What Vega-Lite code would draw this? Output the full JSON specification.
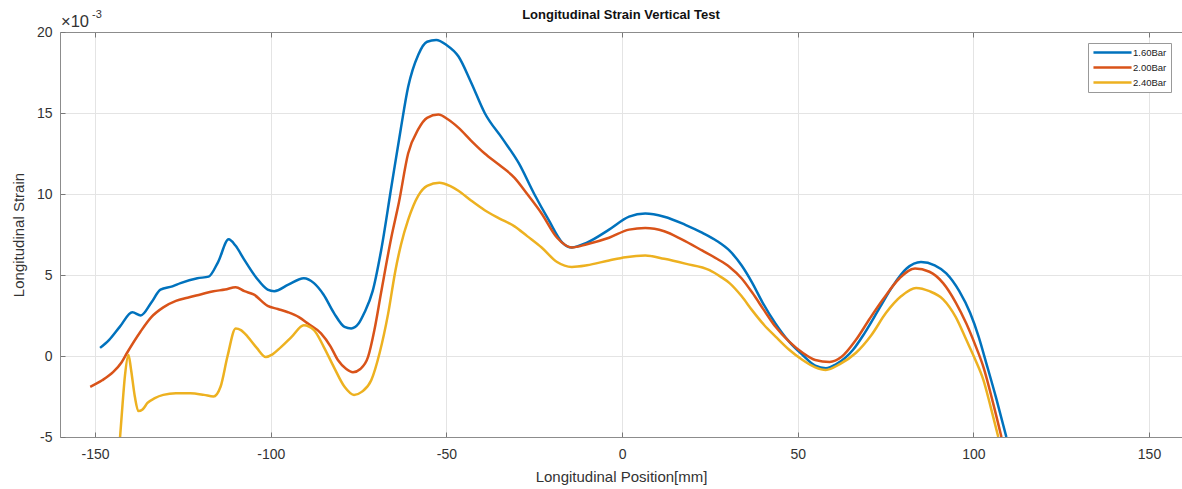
{
  "$schema": "https://vega.github.io/schema/vega-lite/v6.json",
  "width": 1122,
  "height": 405,
  "autosize": {"type": "none"},
  "padding": {"left": 60, "top": 32, "right": 0, "bottom": 52},
  "background": "white",
  "config": {
    "font": "Liberation Sans",
    "view": {"stroke": null},
    "axis": {"labelColor": "#333", "titleColor": "#333", "titleFontWeight": "normal", "domainColor": "#8c8c8c", "tickColor": "#777", "gridColor": "#e4e4e4"}
  },
  "title": {"text": "Longitudinal Strain Vertical Test", "fontSize": 13, "fontWeight": "bold", "color": "#111", "offset": 0, "dy": 13, "anchor": "middle"},
  "datasets": {
    "strain": [
      {"s": "1.60Bar", "x": -148.6, "y": 0.5}, {"s": "1.60Bar", "x": -146, "y": 1.0}, {"s": "1.60Bar", "x": -143, "y": 1.8}, {"s": "1.60Bar", "x": -139.4, "y": 2.7}, {"s": "1.60Bar", "x": -137, "y": 2.5}, {"s": "1.60Bar", "x": -134, "y": 3.3}, {"s": "1.60Bar", "x": -131.4, "y": 4.1}, {"s": "1.60Bar", "x": -128, "y": 4.3}, {"s": "1.60Bar", "x": -125.7, "y": 4.5}, {"s": "1.60Bar", "x": -120.9, "y": 4.8}, {"s": "1.60Bar", "x": -117.7, "y": 4.9}, {"s": "1.60Bar", "x": -115, "y": 5.8}, {"s": "1.60Bar", "x": -112, "y": 7.2}, {"s": "1.60Bar", "x": -110, "y": 6.8}, {"s": "1.60Bar", "x": -107.7, "y": 6.0}, {"s": "1.60Bar", "x": -104, "y": 4.8}, {"s": "1.60Bar", "x": -100.9, "y": 4.1}, {"s": "1.60Bar", "x": -99, "y": 4.0}, {"s": "1.60Bar", "x": -95, "y": 4.4}, {"s": "1.60Bar", "x": -90.6, "y": 4.8}, {"s": "1.60Bar", "x": -87.7, "y": 4.5}, {"s": "1.60Bar", "x": -85, "y": 3.8}, {"s": "1.60Bar", "x": -82, "y": 2.65}, {"s": "1.60Bar", "x": -79, "y": 1.8}, {"s": "1.60Bar", "x": -77.1, "y": 1.7}, {"s": "1.60Bar", "x": -75, "y": 2.0}, {"s": "1.60Bar", "x": -73.4, "y": 2.65}, {"s": "1.60Bar", "x": -71, "y": 4.0}, {"s": "1.60Bar", "x": -68.6, "y": 6.5}, {"s": "1.60Bar", "x": -65.7, "y": 10.4}, {"s": "1.60Bar", "x": -63, "y": 14.0}, {"s": "1.60Bar", "x": -60.9, "y": 16.6}, {"s": "1.60Bar", "x": -58, "y": 18.6}, {"s": "1.60Bar", "x": -55.5, "y": 19.4}, {"s": "1.60Bar", "x": -52.9, "y": 19.5}, {"s": "1.60Bar", "x": -50, "y": 19.2}, {"s": "1.60Bar", "x": -46.6, "y": 18.5}, {"s": "1.60Bar", "x": -43, "y": 16.9}, {"s": "1.60Bar", "x": -39.1, "y": 15.0}, {"s": "1.60Bar", "x": -34, "y": 13.4}, {"s": "1.60Bar", "x": -29.4, "y": 11.9}, {"s": "1.60Bar", "x": -25, "y": 10.0}, {"s": "1.60Bar", "x": -20.9, "y": 8.4}, {"s": "1.60Bar", "x": -17, "y": 7.0}, {"s": "1.60Bar", "x": -14.3, "y": 6.7}, {"s": "1.60Bar", "x": -10, "y": 7.0}, {"s": "1.60Bar", "x": -3.7, "y": 7.8}, {"s": "1.60Bar", "x": 2, "y": 8.6}, {"s": "1.60Bar", "x": 6.6, "y": 8.8}, {"s": "1.60Bar", "x": 12, "y": 8.6}, {"s": "1.60Bar", "x": 18, "y": 8.1}, {"s": "1.60Bar", "x": 22.9, "y": 7.6}, {"s": "1.60Bar", "x": 27, "y": 7.1}, {"s": "1.60Bar", "x": 30.6, "y": 6.5}, {"s": "1.60Bar", "x": 34, "y": 5.6}, {"s": "1.60Bar", "x": 37.1, "y": 4.5}, {"s": "1.60Bar", "x": 40, "y": 3.3}, {"s": "1.60Bar", "x": 43.7, "y": 2.0}, {"s": "1.60Bar", "x": 47.5, "y": 0.9}, {"s": "1.60Bar", "x": 51.4, "y": 0.06}, {"s": "1.60Bar", "x": 55, "y": -0.6}, {"s": "1.60Bar", "x": 58, "y": -0.75}, {"s": "1.60Bar", "x": 61, "y": -0.5}, {"s": "1.60Bar", "x": 65.7, "y": 0.37}, {"s": "1.60Bar", "x": 69, "y": 1.4}, {"s": "1.60Bar", "x": 73.4, "y": 3.0}, {"s": "1.60Bar", "x": 77, "y": 4.3}, {"s": "1.60Bar", "x": 81, "y": 5.4}, {"s": "1.60Bar", "x": 85.1, "y": 5.8}, {"s": "1.60Bar", "x": 89, "y": 5.6}, {"s": "1.60Bar", "x": 92.3, "y": 5.1}, {"s": "1.60Bar", "x": 96, "y": 4.0}, {"s": "1.60Bar", "x": 99.1, "y": 2.65}, {"s": "1.60Bar", "x": 101.5, "y": 1.2}, {"s": "1.60Bar", "x": 103.7, "y": -0.45}, {"s": "1.60Bar", "x": 106.5, "y": -2.6}, {"s": "1.60Bar", "x": 109.4, "y": -5},

      {"s": "2.00Bar", "x": -151.4, "y": -1.9}, {"s": "2.00Bar", "x": -148, "y": -1.5}, {"s": "2.00Bar", "x": -144.9, "y": -1.0}, {"s": "2.00Bar", "x": -142.5, "y": -0.4}, {"s": "2.00Bar", "x": -140.9, "y": 0.2}, {"s": "2.00Bar", "x": -137.1, "y": 1.5}, {"s": "2.00Bar", "x": -134, "y": 2.4}, {"s": "2.00Bar", "x": -130.6, "y": 3.0}, {"s": "2.00Bar", "x": -127, "y": 3.4}, {"s": "2.00Bar", "x": -123.7, "y": 3.6}, {"s": "2.00Bar", "x": -120, "y": 3.8}, {"s": "2.00Bar", "x": -116.3, "y": 4.0}, {"s": "2.00Bar", "x": -113, "y": 4.1}, {"s": "2.00Bar", "x": -110, "y": 4.25}, {"s": "2.00Bar", "x": -107.5, "y": 4.0}, {"s": "2.00Bar", "x": -104.9, "y": 3.8}, {"s": "2.00Bar", "x": -100.9, "y": 3.1}, {"s": "2.00Bar", "x": -98, "y": 2.9}, {"s": "2.00Bar", "x": -95.1, "y": 2.7}, {"s": "2.00Bar", "x": -92, "y": 2.4}, {"s": "2.00Bar", "x": -89.4, "y": 2.0}, {"s": "2.00Bar", "x": -85.7, "y": 1.4}, {"s": "2.00Bar", "x": -83, "y": 0.6}, {"s": "2.00Bar", "x": -80.9, "y": -0.25}, {"s": "2.00Bar", "x": -78.5, "y": -0.8}, {"s": "2.00Bar", "x": -76.6, "y": -1.0}, {"s": "2.00Bar", "x": -74.5, "y": -0.8}, {"s": "2.00Bar", "x": -72.3, "y": -0.06}, {"s": "2.00Bar", "x": -70.5, "y": 1.6}, {"s": "2.00Bar", "x": -68.6, "y": 3.9}, {"s": "2.00Bar", "x": -65.7, "y": 7.3}, {"s": "2.00Bar", "x": -63.5, "y": 9.5}, {"s": "2.00Bar", "x": -60.9, "y": 12.5}, {"s": "2.00Bar", "x": -58, "y": 14.0}, {"s": "2.00Bar", "x": -55.5, "y": 14.7}, {"s": "2.00Bar", "x": -52.3, "y": 14.9}, {"s": "2.00Bar", "x": -49.5, "y": 14.6}, {"s": "2.00Bar", "x": -46.6, "y": 14.1}, {"s": "2.00Bar", "x": -43, "y": 13.3}, {"s": "2.00Bar", "x": -39.1, "y": 12.5}, {"s": "2.00Bar", "x": -35, "y": 11.8}, {"s": "2.00Bar", "x": -30.6, "y": 11.0}, {"s": "2.00Bar", "x": -27, "y": 10.0}, {"s": "2.00Bar", "x": -22.9, "y": 8.8}, {"s": "2.00Bar", "x": -18.5, "y": 7.3}, {"s": "2.00Bar", "x": -14.3, "y": 6.7}, {"s": "2.00Bar", "x": -10, "y": 6.9}, {"s": "2.00Bar", "x": -3.7, "y": 7.3}, {"s": "2.00Bar", "x": 2, "y": 7.8}, {"s": "2.00Bar", "x": 6.6, "y": 7.9}, {"s": "2.00Bar", "x": 12, "y": 7.7}, {"s": "2.00Bar", "x": 17, "y": 7.2}, {"s": "2.00Bar", "x": 22.9, "y": 6.5}, {"s": "2.00Bar", "x": 27, "y": 6.0}, {"s": "2.00Bar", "x": 30.6, "y": 5.5}, {"s": "2.00Bar", "x": 34, "y": 4.8}, {"s": "2.00Bar", "x": 37.1, "y": 3.9}, {"s": "2.00Bar", "x": 40.5, "y": 2.8}, {"s": "2.00Bar", "x": 43.7, "y": 1.8}, {"s": "2.00Bar", "x": 47.5, "y": 0.9}, {"s": "2.00Bar", "x": 51.4, "y": 0.2}, {"s": "2.00Bar", "x": 55, "y": -0.25}, {"s": "2.00Bar", "x": 59.1, "y": -0.37}, {"s": "2.00Bar", "x": 62.5, "y": -0.05}, {"s": "2.00Bar", "x": 66.6, "y": 1.0}, {"s": "2.00Bar", "x": 70.5, "y": 2.3}, {"s": "2.00Bar", "x": 74.3, "y": 3.5}, {"s": "2.00Bar", "x": 79, "y": 4.8}, {"s": "2.00Bar", "x": 83.4, "y": 5.4}, {"s": "2.00Bar", "x": 87.5, "y": 5.2}, {"s": "2.00Bar", "x": 91.4, "y": 4.5}, {"s": "2.00Bar", "x": 95, "y": 3.3}, {"s": "2.00Bar", "x": 98, "y": 2.0}, {"s": "2.00Bar", "x": 100.5, "y": 0.7}, {"s": "2.00Bar", "x": 102.9, "y": -0.7}, {"s": "2.00Bar", "x": 105.5, "y": -2.8}, {"s": "2.00Bar", "x": 108, "y": -5},

      {"s": "2.40Bar", "x": -142.9, "y": -5}, {"s": "2.40Bar", "x": -142.2, "y": -3}, {"s": "2.40Bar", "x": -141.5, "y": -1.2}, {"s": "2.40Bar", "x": -140.5, "y": 0.06}, {"s": "2.40Bar", "x": -139.8, "y": -0.8}, {"s": "2.40Bar", "x": -138.7, "y": -2.5}, {"s": "2.40Bar", "x": -137.7, "y": -3.4}, {"s": "2.40Bar", "x": -136.5, "y": -3.3}, {"s": "2.40Bar", "x": -135.1, "y": -2.9}, {"s": "2.40Bar", "x": -133, "y": -2.6}, {"s": "2.40Bar", "x": -130.6, "y": -2.4}, {"s": "2.40Bar", "x": -127, "y": -2.3}, {"s": "2.40Bar", "x": -122.9, "y": -2.3}, {"s": "2.40Bar", "x": -119, "y": -2.4}, {"s": "2.40Bar", "x": -116.3, "y": -2.5}, {"s": "2.40Bar", "x": -114.3, "y": -1.9}, {"s": "2.40Bar", "x": -112.3, "y": 0.0}, {"s": "2.40Bar", "x": -110, "y": 1.7}, {"s": "2.40Bar", "x": -108.5, "y": 1.6}, {"s": "2.40Bar", "x": -106.6, "y": 1.2}, {"s": "2.40Bar", "x": -104, "y": 0.5}, {"s": "2.40Bar", "x": -101.4, "y": -0.06}, {"s": "2.40Bar", "x": -99.5, "y": 0.1}, {"s": "2.40Bar", "x": -97.1, "y": 0.55}, {"s": "2.40Bar", "x": -94, "y": 1.2}, {"s": "2.40Bar", "x": -90.6, "y": 1.9}, {"s": "2.40Bar", "x": -87.7, "y": 1.6}, {"s": "2.40Bar", "x": -85, "y": 0.6}, {"s": "2.40Bar", "x": -82, "y": -0.7}, {"s": "2.40Bar", "x": -79, "y": -1.9}, {"s": "2.40Bar", "x": -76.3, "y": -2.4}, {"s": "2.40Bar", "x": -74, "y": -2.2}, {"s": "2.40Bar", "x": -71.4, "y": -1.5}, {"s": "2.40Bar", "x": -69, "y": 0.2}, {"s": "2.40Bar", "x": -66.6, "y": 2.6}, {"s": "2.40Bar", "x": -64.5, "y": 5.3}, {"s": "2.40Bar", "x": -62.9, "y": 6.9}, {"s": "2.40Bar", "x": -60.9, "y": 8.4}, {"s": "2.40Bar", "x": -58, "y": 9.9}, {"s": "2.40Bar", "x": -55.5, "y": 10.5}, {"s": "2.40Bar", "x": -52, "y": 10.7}, {"s": "2.40Bar", "x": -49, "y": 10.5}, {"s": "2.40Bar", "x": -46.6, "y": 10.2}, {"s": "2.40Bar", "x": -43, "y": 9.6}, {"s": "2.40Bar", "x": -39.1, "y": 9.0}, {"s": "2.40Bar", "x": -35, "y": 8.5}, {"s": "2.40Bar", "x": -30.6, "y": 8.0}, {"s": "2.40Bar", "x": -27, "y": 7.4}, {"s": "2.40Bar", "x": -22.9, "y": 6.7}, {"s": "2.40Bar", "x": -18.5, "y": 5.8}, {"s": "2.40Bar", "x": -14.3, "y": 5.5}, {"s": "2.40Bar", "x": -10, "y": 5.6}, {"s": "2.40Bar", "x": -3.7, "y": 5.9}, {"s": "2.40Bar", "x": 1, "y": 6.1}, {"s": "2.40Bar", "x": 6.6, "y": 6.2}, {"s": "2.40Bar", "x": 12, "y": 6.0}, {"s": "2.40Bar", "x": 18, "y": 5.7}, {"s": "2.40Bar", "x": 24.9, "y": 5.3}, {"s": "2.40Bar", "x": 28, "y": 4.9}, {"s": "2.40Bar", "x": 30.6, "y": 4.5}, {"s": "2.40Bar", "x": 34, "y": 3.7}, {"s": "2.40Bar", "x": 37.1, "y": 2.8}, {"s": "2.40Bar", "x": 40.5, "y": 1.9}, {"s": "2.40Bar", "x": 43.7, "y": 1.2}, {"s": "2.40Bar", "x": 47.5, "y": 0.4}, {"s": "2.40Bar", "x": 51.4, "y": -0.25}, {"s": "2.40Bar", "x": 55, "y": -0.7}, {"s": "2.40Bar", "x": 58, "y": -0.86}, {"s": "2.40Bar", "x": 62, "y": -0.5}, {"s": "2.40Bar", "x": 66.6, "y": 0.2}, {"s": "2.40Bar", "x": 71, "y": 1.3}, {"s": "2.40Bar", "x": 75.1, "y": 2.65}, {"s": "2.40Bar", "x": 79.5, "y": 3.7}, {"s": "2.40Bar", "x": 83.7, "y": 4.2}, {"s": "2.40Bar", "x": 87.5, "y": 4.0}, {"s": "2.40Bar", "x": 91.4, "y": 3.5}, {"s": "2.40Bar", "x": 95, "y": 2.4}, {"s": "2.40Bar", "x": 98, "y": 1.0}, {"s": "2.40Bar", "x": 100.5, "y": -0.2}, {"s": "2.40Bar", "x": 102.9, "y": -1.5}, {"s": "2.40Bar", "x": 105, "y": -3.2}, {"s": "2.40Bar", "x": 107.1, "y": -5}
    ]
  },
  "layer": [
    {
      "data": {"name": "strain"},
      "mark": {"type": "line", "strokeWidth": 2.5, "interpolate": "monotone", "clip": true},
      "encoding": {
        "x": {"field": "x", "type": "quantitative", "scale": {"domain": [-160, 159.4], "nice": false, "zero": false},
          "axis": {"orient": "bottom", "title": "Longitudinal Position[mm]", "values": [-150, -100, -50, 0, 50, 100, 150], "labelExpr": "'' + datum.value", "grid": true, "tickSize": -5, "labelPadding": 15, "labelFontSize": 14, "titleFontSize": 15, "titlePadding": 8}},
        "y": {"field": "y", "type": "quantitative", "scale": {"domain": [-5, 20], "nice": false, "zero": false},
          "axis": {"title": "Longitudinal Strain", "values": [-5, 0, 5, 10, 15, 20], "labelExpr": "'' + datum.value", "grid": true, "tickSize": -5, "labelPadding": 13, "labelFontSize": 14, "titleFontSize": 15, "titlePadding": 10}},
        "color": {"field": "s", "type": "nominal", "scale": {"domain": ["1.60Bar", "2.00Bar", "2.40Bar"], "range": ["#0072BD", "#D95319", "#EDB120"]},
          "legend": {"orient": "none", "legendX": 1028, "legendY": 11, "title": null, "symbolType": "M-5,0H5", "symbolSize": 58, "symbolStrokeWidth": 2.5, "symbolOffset": 15, "labelOffset": 15, "labelFontSize": 9.5, "labelColor": "#222", "strokeColor": "#999", "fillColor": "white", "padding": 4, "rowPadding": 4}}
      }
    },
    {
      "data": {"values": [{"t": "×10"}]},
      "mark": {"type": "text", "align": "left", "baseline": "alphabetic", "fontSize": 16.5, "dy": -5, "dx": 1, "color": "#333"},
      "encoding": {
        "x": {"datum": -160, "type": "quantitative", "axis": {"orient": "top", "title": null, "labels": false, "grid": false, "tickSize": -5, "values": [-150, -100, -50, 0, 50, 100, 150]}},
        "y": {"datum": 20, "type": "quantitative"},
        "text": {"field": "t"}
      }
    },
    {
      "data": {"values": [{"t": "-3"}]},
      "mark": {"type": "text", "align": "left", "baseline": "alphabetic", "fontSize": 11, "dy": -14, "dx": 32, "color": "#333"},
      "encoding": {
        "x": {"datum": -160, "type": "quantitative", "axis": null},
        "y": {"datum": 20, "type": "quantitative"},
        "text": {"field": "t"}
      }
    }
  ],
  "resolve": {"axis": {"x": "independent"}}
}
